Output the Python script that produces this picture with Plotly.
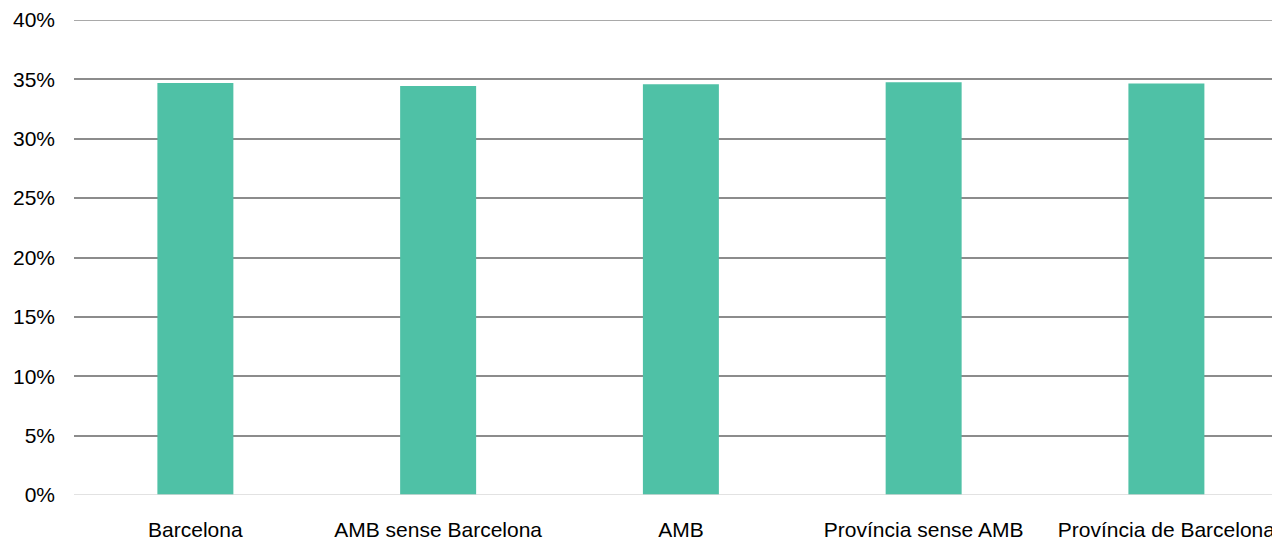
import plotly.graph_objects as go

categories = ["Barcelona", "AMB sense Barcelona", "AMB", "Província sense AMB", "Província de Barcelona"]
values = [0.347, 0.3445, 0.3459, 0.3475, 0.3465]
y_ticks = [0, 0.05, 0.10, 0.15, 0.20, 0.25, 0.30, 0.35, 0.40]
y_tick_labels = ["0%", "5%", "10%", "15%", "20%", "25%", "30%", "35%", "40%"]

fig = go.Figure(
    go.Bar(
        x=list(range(len(categories))),
        y=values,
        marker=dict(color="#4fc1a6", line=dict(width=0)),
        hoverinfo="skip",
    )
)

fig.update_layout(
    width=1272,
    height=538,
    margin=dict(l=74, r=0, t=19.5, b=42.7, autoexpand=False),
    paper_bgcolor="white",
    plot_bgcolor="white",
    bargap=0.687,
    showlegend=False,
    font=dict(family="Liberation Sans, Arial, sans-serif", size=21, color="#000000"),
    xaxis=dict(
        tickmode="array",
        tickvals=list(range(len(categories))),
        ticktext=categories,
        range=[-0.5, 4.435],
        showgrid=False,
        zeroline=False,
        showline=False,
        ticks="",
        automargin=False,
        ticklabelstandoff=20,
        ticklabeloverflow="allow",
        tickfont=dict(size=21),
    ),
    yaxis=dict(
        tickmode="array",
        tickvals=y_ticks,
        ticktext=y_tick_labels,
        range=[0, 0.40],
        showgrid=True,
        gridcolor="#8c8c8c",
        gridwidth=1.5,
        zeroline=False,
        showline=False,
        ticks="",
        automargin=False,
        ticklabelstandoff=18,
        tickfont=dict(size=21),
    ),
)

# top gridline at 40% and lighter baseline at 0%
fig.add_shape(
    type="line", xref="paper", yref="y", x0=0, x1=1, y0=0.40, y1=0.40,
    line=dict(color="#8c8c8c", width=1.5), layer="below",
)
fig.add_shape(
    type="line", xref="paper", yref="y", x0=0, x1=1, y0=0, y1=0,
    line=dict(color="#d9d9d9", width=1.5), layer="above",
)

fig.write_html("out.html")
